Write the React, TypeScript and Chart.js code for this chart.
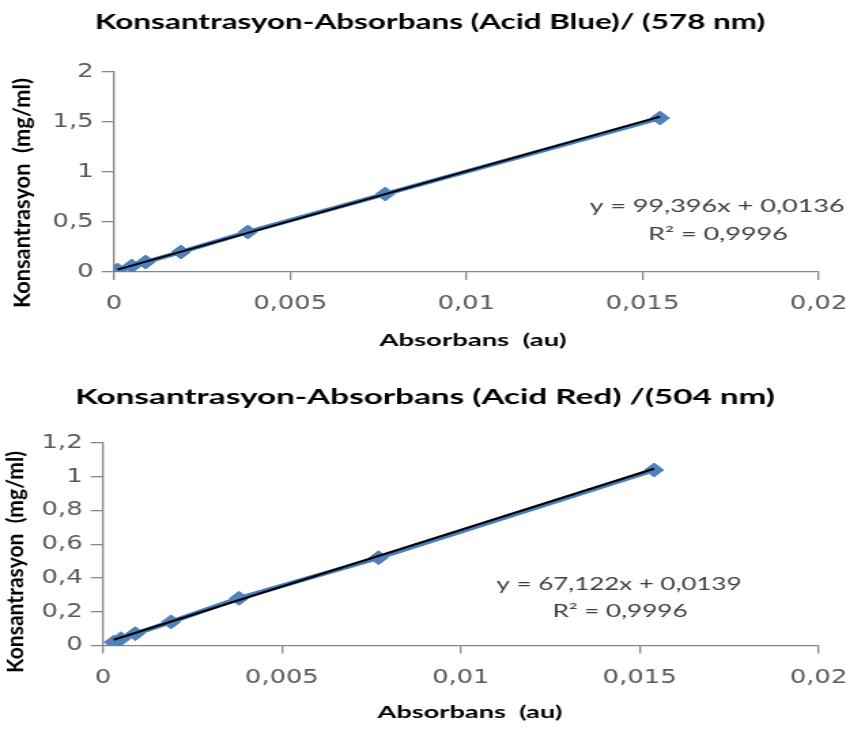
import React, { useEffect, useRef } from "react";
import { Chart, registerables } from "chart.js";

Chart.register(...registerables);

// ---------- data ----------
const blueAbsorbance = [0.0001, 0.0005, 0.0009, 0.0019, 0.0038, 0.0077, 0.0155];
const blueConcentration = [0.02, 0.06, 0.1, 0.2, 0.4, 0.78, 1.54];
const blueSlope = 99.396;
const blueIntercept = 0.0136;

const redAbsorbance = [0.0003, 0.0005, 0.0009, 0.0019, 0.0038, 0.0077, 0.0154];
const redConcentration = [0.02, 0.04, 0.07, 0.14, 0.28, 0.52, 1.04];
const redSlope = 67.122;
const redIntercept = 0.0139;

const xTicks = [0, 0.005, 0.01, 0.015, 0.02];
const blueYTicks = [0, 0.5, 1, 1.5, 2];
const redYTicks = [0, 0.2, 0.4, 0.6, 0.8, 1, 1.2];

const blueTitle = "Konsantrasyon-Absorbans (Acid Blue)/ (578 nm)";
const redTitle = "Konsantrasyon-Absorbans (Acid Red) /(504 nm)";
const xTitle = "Absorbans  (au)";
const yTitle = "Konsantrasyon  (mg/ml)";
const blueEquation = "y = 99,396x + 0,0136";
const redEquation = "y = 67,122x + 0,0139";
const rSquared = "R² = 0,9996";

// ---------- layout ----------
const PAGE_W = 865;
const CANVAS_W = 636;
const S = PAGE_W / CANVAS_W; // horizontal stretch of the picture

const fmt = (v: number) => String(Number(v.toFixed(5))).replace(".", ",");

type TextSpec = {
  text: string;
  x: number; // screen x centre
  y: number; // canvas y centre
  w: number; // screen width (or vertical length if rotated)
  font: string;
  color: string;
  rotate?: boolean;
};

function drawStretched(ctx: CanvasRenderingContext2D, t: TextSpec) {
  ctx.save();
  ctx.font = t.font;
  ctx.fillStyle = t.color;
  ctx.textAlign = "center";
  ctx.textBaseline = "middle";
  const measured = ctx.measureText(t.text).width;
  const target = t.rotate ? t.w : t.w / S;
  const sx = target / measured;
  ctx.translate(t.x / S, t.y);
  if (t.rotate) ctx.rotate(-Math.PI / 2);
  ctx.scale(sx, 1);
  ctx.fillText(t.text, 0, 0);
  ctx.restore();
}

type PanelProps = {
  top: number;
  height: number;
  xs: number[];
  ys: number[];
  slope: number;
  intercept: number;
  yTicks: number[];
  area: { left: number; right: number; top: number; bottom: number };
  texts: TextSpec[];
};

function Panel(p: PanelProps) {
  const ref = useRef<HTMLCanvasElement | null>(null);
  useEffect(() => {
    if (!ref.current) return;
    const xmin = Math.min(...p.xs);
    const xmax = Math.max(...p.xs);
    const trend = [
      { x: xmin, y: p.slope * xmin + p.intercept },
      { x: xmax, y: p.slope * xmax + p.intercept },
    ];
    const points = p.xs.map((x, i) => ({ x, y: p.ys[i] }));
    const left = p.area.left / S;
    const right = p.area.right / S;
    const textPlugin = {
      id: "texts",
      afterDraw(chart: any) {
        const ctx = chart.ctx as CanvasRenderingContext2D;
        p.texts.forEach((t) => drawStretched(ctx, t));
      },
    };
    const tickFont = { family: "'DejaVu Sans', Verdana, sans-serif", size: 19 };
    const chart = new Chart(ref.current, {
      type: "scatter",
      data: {
        datasets: [
          {
            data: trend,
            showLine: true,
            borderColor: "#000000",
            borderWidth: 2,
            pointRadius: 0,
            order: 0,
          } as any,
          {
            data: points,
            showLine: true,
            borderColor: "#4A7EBB",
            borderWidth: 4.5,
            pointStyle: "rectRot",
            pointRadius: 7,
            pointBackgroundColor: "#4F81BD",
            pointBorderColor: "#4A7EBB",
            pointBorderWidth: 1,
            order: 1,
          } as any,
        ],
      },
      options: {
        animation: false,
        responsive: false,
        devicePixelRatio: 1,
        layout: {
          padding: { left: 0, right: CANVAS_W - right, top: p.area.top, bottom: 0 },
        },
        plugins: { legend: { display: false }, tooltip: { enabled: false }, title: { display: false } },
        scales: {
          x: {
            type: "linear",
            min: xTicks[0],
            max: xTicks[xTicks.length - 1],
            afterBuildTicks: (s: any) => {
              s.ticks = xTicks.map((v) => ({ value: v }));
            },
            afterFit: (s: any) => {
              s.height = p.height - p.area.bottom;
            },
            ticks: {
              callback: (v: any) => fmt(Number(v)),
              font: tickFont,
              color: "#595959",
              padding: 13,
              maxRotation: 0,
            },
            grid: {
              drawOnChartArea: false,
              drawTicks: true,
              tickLength: 8,
              color: "#868686",
              lineWidth: 1.3,
            },
            border: { display: true, color: "#868686", width: 1.3 },
          },
          y: {
            type: "linear",
            min: p.yTicks[0],
            max: p.yTicks[p.yTicks.length - 1],
            afterBuildTicks: (s: any) => {
              s.ticks = p.yTicks.map((v) => ({ value: v }));
            },
            afterFit: (s: any) => {
              s.width = left;
            },
            ticks: {
              callback: (v: any) => fmt(Number(v)),
              font: tickFont,
              color: "#595959",
              padding: 6,
            },
            grid: {
              drawOnChartArea: false,
              drawTicks: true,
              tickLength: 9,
              color: "#868686",
              lineWidth: 1.3,
            },
            border: { display: true, color: "#868686", width: 1.3 },
          },
        },
      } as any,
      plugins: [textPlugin],
    });
    return () => chart.destroy();
  }, []);
  return (
    <div
      style={{
        position: "absolute",
        left: 0,
        top: p.top,
        width: CANVAS_W,
        height: p.height,
        transform: `scale(${S}, 1)`,
        transformOrigin: "0 0",
      }}
    >
      <canvas
        ref={ref}
        width={CANVAS_W}
        height={p.height}
        style={{ width: CANVAS_W, height: p.height, display: "block" }}
      />
    </div>
  );
}

const titleFont = "bold 21px Lato, 'Open Sans', sans-serif";
const axisFont = "bold 17px Lato, 'Open Sans', sans-serif";
const eqFont = "17px Lato, 'Open Sans', sans-serif";

export default function App() {
  return (
    <div style={{ position: "absolute", left: 0, top: 0, width: PAGE_W, height: 729, background: "#fff" }}>
      <Panel
        top={0}
        height={365}
        xs={blueAbsorbance}
        ys={blueConcentration}
        slope={blueSlope}
        intercept={blueIntercept}
        yTicks={blueYTicks}
        area={{ left: 114, right: 835, top: 72, bottom: 272 }}
        texts={[
          { text: blueTitle, x: 430, y: 22, w: 670, font: titleFont, color: "#000" },
          { text: xTitle, x: 473, y: 341, w: 187, font: axisFont, color: "#000" },
          { text: yTitle, x: 23, y: 193, w: 230, font: axisFont, color: "#000", rotate: true },
          { text: blueEquation, x: 717, y: 207, w: 255, font: eqFont, color: "#404040" },
          { text: rSquared, x: 718, y: 235, w: 140, font: eqFont, color: "#404040" },
        ]}
      />
      <Panel
        top={365}
        height={364}
        xs={redAbsorbance}
        ys={redConcentration}
        slope={redSlope}
        intercept={redIntercept}
        yTicks={redYTicks}
        area={{ left: 103, right: 837, top: 78, bottom: 280.5 }}
        texts={[
          { text: redTitle, x: 425, y: 32, w: 700, font: titleFont, color: "#000" },
          { text: xTitle, x: 470, y: 348, w: 185, font: axisFont, color: "#000" },
          { text: yTitle, x: 15, y: 197, w: 222, font: axisFont, color: "#000", rotate: true },
          { text: redEquation, x: 619, y: 220, w: 245, font: eqFont, color: "#404040" },
          { text: rSquared, x: 620, y: 247, w: 135, font: eqFont, color: "#404040" },
        ]}
      />
    </div>
  );
}
